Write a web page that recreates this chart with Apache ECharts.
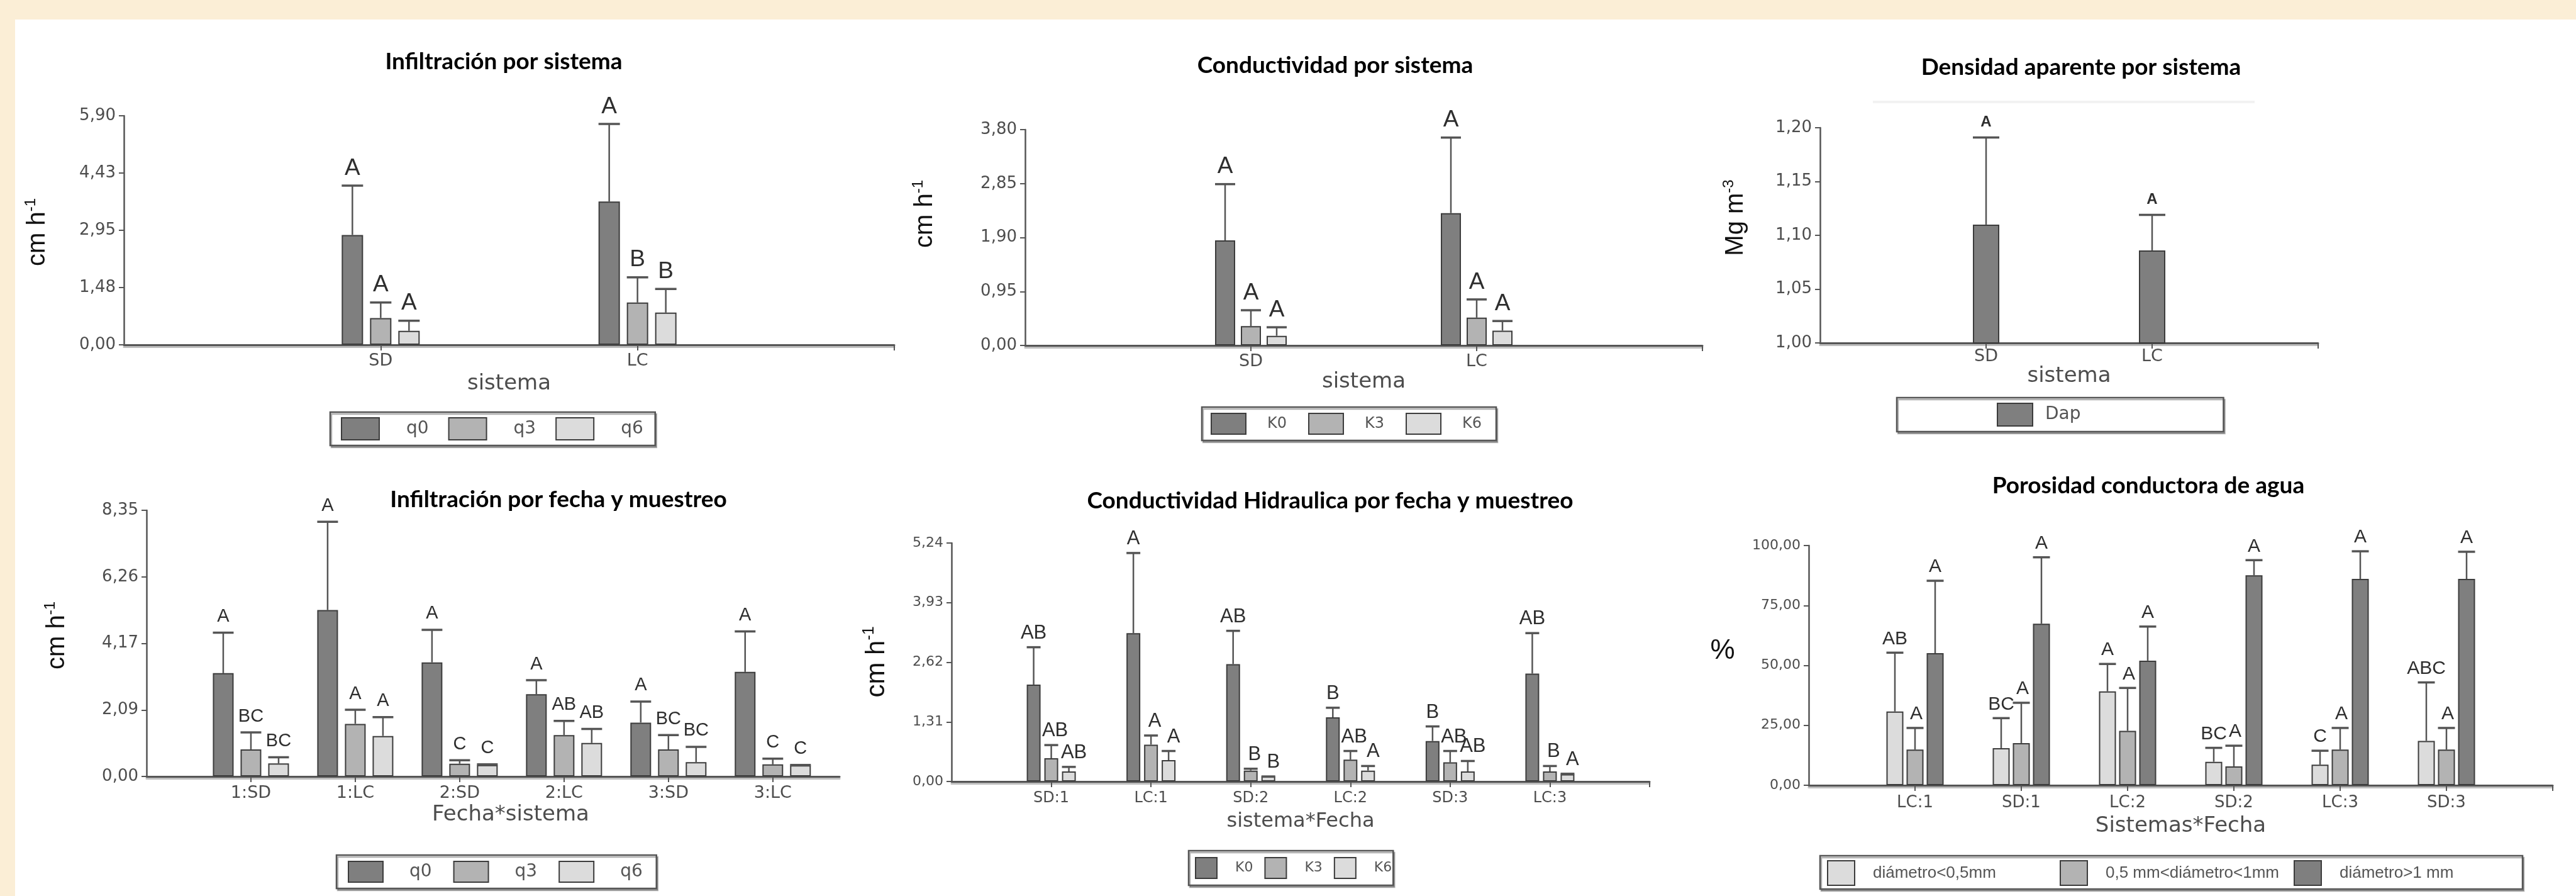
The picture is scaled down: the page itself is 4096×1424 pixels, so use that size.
<!DOCTYPE html>
<html><head><meta charset="utf-8">
<script src="https://cdn.jsdelivr.net/npm/echarts@6/dist/echarts.min.js"></script>
<style>html,body{margin:0;padding:0;background:#fbeed6;}#c{width:4096px;height:1424px;}</style>
</head><body><div id="c"></div>
<script>
// ---------------- DATA ----------------
// Panel 1: Infiltración por sistema
const p1Categories = ['SD', 'LC'];
const p1SeriesNames = ['q0', 'q3', 'q6'];
const p1Means = [[2.83, 3.69], [0.69, 1.09], [0.36, 0.83]];
const p1Errors = [[1.27, 2.00], [0.40, 0.65], [0.26, 0.61]];
const p1Letters = [['A', 'A'], ['A', 'B'], ['A', 'B']];
const p1YTicks = ['0,00', '1,48', '2,95', '4,43', '5,90'];

// Panel 2: Conductividad por sistema
const p2Categories = ['SD', 'LC'];
const p2SeriesNames = ['K0', 'K3', 'K6'];
const p2Means = [[1.85, 2.33], [0.34, 0.49], [0.17, 0.26]];
const p2Errors = [[0.99, 1.33], [0.28, 0.32], [0.15, 0.17]];
const p2Letters = [['A', 'A'], ['A', 'A'], ['A', 'A']];
const p2YTicks = ['0,00', '0,95', '1,90', '2,85', '3,80'];

// Panel 3: Densidad aparente por sistema
const p3Categories = ['SD', 'LC'];
const p3SeriesNames = ['Dap'];
const p3Means = [[1.110, 1.086]];
const p3Errors = [[0.081, 0.033]];
const p3Letters = [['A', 'A']];
const p3YTicks = ['1,00', '1,05', '1,10', '1,15', '1,20'];

// Panel 4: Infiltración por fecha y muestreo
const p4Categories = ['1:SD', '1:LC', '2:SD', '2:LC', '3:SD', '3:LC'];
const p4SeriesNames = ['q0', 'q3', 'q6'];
const p4Means = [
  [3.24, 5.22, 3.58, 2.58, 1.69, 3.28],
  [0.85, 1.65, 0.40, 1.30, 0.85, 0.38],
  [0.41, 1.27, 0.36, 1.05, 0.45, 0.35]
];
const p4Errors = [
  [1.27, 2.77, 1.02, 0.44, 0.66, 1.27],
  [0.53, 0.44, 0.11, 0.44, 0.45, 0.18],
  [0.19, 0.59, 0.02, 0.44, 0.48, 0.01]
];
const p4Letters = [
  ['A', 'A', 'A', 'A', 'A', 'A'],
  ['BC', 'A', 'C', 'AB', 'BC', 'C'],
  ['BC', 'A', 'C', 'AB', 'BC', 'C']
];
const p4YTicks = ['0,00', '2,09', '4,17', '6,26', '8,35'];

// Panel 5: Conductividad Hidraulica por fecha y muestreo
const p5Categories = ['SD:1', 'LC:1', 'SD:2', 'LC:2', 'SD:3', 'LC:3'];
const p5SeriesNames = ['K0', 'K3', 'K6'];
const p5Means = [
  [2.13, 3.26, 2.58, 1.41, 0.89, 2.37],
  [0.51, 0.81, 0.24, 0.48, 0.42, 0.22],
  [0.22, 0.47, 0.11, 0.24, 0.22, 0.16]
];
const p5Errors = [
  [0.82, 1.76, 0.73, 0.21, 0.32, 0.89],
  [0.29, 0.20, 0.04, 0.19, 0.25, 0.12],
  [0.10, 0.20, 0.00, 0.10, 0.23, 0.01]
];
const p5Letters = [
  ['AB', 'A', 'AB', 'B', 'B', 'AB'],
  ['AB', 'A', 'B', 'AB', 'AB', 'B'],
  ['AB', 'A', 'B', 'A', 'AB', 'A']
];
const p5YTicks = ['0,00', '1,31', '2,62', '3,93', '5,24'];

// Panel 6: Porosidad conductora de agua
const p6Categories = ['LC:1', 'SD:1', 'LC:2', 'SD:2', 'LC:3', 'SD:3'];
const p6SeriesNames = ['diámetro<0,5mm', '0,5 mm<diámetro<1mm', 'diámetro>1 mm'];
const p6Means = [
  [30.8, 15.5, 39.2, 9.8, 8.6, 18.5],
  [14.9, 17.6, 22.7, 7.9, 14.9, 14.9],
  [55.1, 67.4, 52.0, 87.6, 86.1, 86.1]
];
const p6Errors = [
  [24.5, 12.5, 11.4, 5.8, 5.8, 24.4],
  [9.0, 16.8, 17.9, 8.6, 9.0, 9.0],
  [30.2, 27.7, 14.2, 6.3, 11.5, 11.3]
];
const p6Letters = [
  ['AB', 'BC', 'A', 'BC', 'C', 'ABC'],
  ['A', 'A', 'A', 'A', 'A', 'A'],
  ['A', 'A', 'A', 'A', 'A', 'A']
];
const p6YTicks = ['0,00', '25,00', '50,00', '75,00', '100,00'];

// ---------------- STYLE / LAYOUT ----------------
const DARK = '#7f7f7f', MID = '#b3b3b3', LIGHT = '#dcdcdc', EDGE = '#3c3c3c', AX = '#555555';
const TICKFONT = 'DejaVu Sans', LETFONT = 'Liberation Sans', TITLEFONT = 'Lato';

const panels = [
  { cats: p1Categories, names: p1SeriesNames, means: p1Means, errs: p1Errors, letters: p1Letters, yTicks: p1YTicks,
    yMin: 0, yMax: 5.90, xMax: 3, xTicks: [1, 2, 3],
    grid: { left: 197, top: 184, width: 1225, height: 364 },
    colors: [DARK, MID, LIGHT], bw: 34, gap: 11, letterSize: 37, letterGap: 9, letterWeight: 'normal', letterShift: [0, 0, 0],
    yLabelSize: 26, xLabelSize: 27, xLabelMargin: 12,
    xName: 'sistema', xNameGap: 45, xNameShift: 0, xNameSize: 34,
    title: { text: 'Infiltración por sistema', x: 801, y: 98 },
    yName: { main: 'cm h', sup: '-1', x: 60, y: 369, rot: true, size: 40 },
    legend: { left: 525, top: 655, itemW: 60, itemH: 35, pl: 38, gap: 31, padding: [8, 19, 8, 17], fontSize: 28, font: TICKFONT } },
  { cats: p2Categories, names: p2SeriesNames, means: p2Means, errs: p2Errors, letters: p2Letters, yTicks: p2YTicks,
    yMin: 0, yMax: 3.80, xMax: 3, xTicks: [1, 2, 3],
    grid: { left: 1630, top: 206, width: 1077, height: 343 },
    colors: [DARK, MID, LIGHT], bw: 32, gap: 9, letterSize: 37, letterGap: 9, letterWeight: 'normal', letterShift: [0, 0, 0],
    yLabelSize: 26, xLabelSize: 27, xLabelMargin: 12,
    xName: 'sistema', xNameGap: 41, xNameShift: 0, xNameSize: 34,
    title: { text: 'Conductividad por sistema', x: 2123, y: 104 },
    yName: { main: 'cm h', sup: '-1', x: 1471, y: 340, rot: true, size: 40 },
    legend: { left: 1911, top: 647, itemW: 55, itemH: 33, pl: 29, gap: 34, padding: [9, 23, 9, 14], fontSize: 24, font: TICKFONT } },
  { cats: p3Categories, names: p3SeriesNames, means: p3Means, errs: p3Errors, letters: p3Letters, yTicks: p3YTicks,
    yMin: 1.0, yMax: 1.2, xMax: 3, xTicks: [1, 2, 3],
    grid: { left: 2894, top: 203, width: 792, height: 342 },
    colors: [DARK], bw: 42, gap: 0, letterSize: 24, letterGap: 12, letterWeight: 'bold', letterShift: [0],
    yLabelSize: 26, xLabelSize: 27, xLabelMargin: 8,
    xName: 'sistema', xNameGap: 32, xNameShift: 0, xNameSize: 34,
    title: { text: 'Densidad aparente por sistema', x: 3309, y: 107 },
    yName: { main: 'Mg m', sup: '-3', x: 2760, y: 346, rot: true, size: 40 },
    legend: { left: 3016, top: 632, itemW: 56, itemH: 36, pl: 15, gap: 0, padding: [8, 227, 8, 159], fontSize: 28, font: TICKFONT } },
  { cats: p4Categories, names: p4SeriesNames, means: p4Means, errs: p4Errors, letters: p4Letters, yTicks: p4YTicks,
    yMin: 0, yMax: 8.35, xMax: 6.64, xTicks: [1, 2, 3, 4, 5, 6],
    grid: { left: 233, top: 811, width: 1102, height: 423 },
    colors: [DARK, MID, LIGHT], bw: 33, gap: 11, letterSize: 29, letterGap: 11, letterWeight: 'normal', letterShift: [0, 0, 0],
    yLabelSize: 26, xLabelSize: 27, xLabelMargin: 13,
    xName: 'Fecha*sistema', xNameGap: 44, xNameShift: 56, xNameSize: 34,
    title: { text: 'Infiltración por fecha y muestreo', x: 888, y: 794 },
    yName: { main: 'cm h', sup: '-1', x: 91, y: 1010, rot: true, size: 40 },
    legend: { left: 535, top: 1359, itemW: 55, itemH: 33, pl: 37, gap: 34, padding: [9, 22, 9, 18], fontSize: 28, font: TICKFONT } },
  { cats: p5Categories, names: p5SeriesNames, means: p5Means, errs: p5Errors, letters: p5Letters, yTicks: p5YTicks,
    yMin: 0, yMax: 5.24, xMax: 7, xTicks: [1, 2, 3, 4, 5, 6, 7],
    grid: { left: 1513, top: 863, width: 1110, height: 379 },
    colors: [DARK, MID, LIGHT], bw: 22, gap: 6, letterSize: 31, letterGap: 7, letterWeight: 'normal', letterShift: [0, 6, 8],
    yLabelSize: 22, xLabelSize: 24, xLabelMargin: 15,
    xName: 'sistema*Fecha', xNameGap: 48, xNameShift: 0, xNameSize: 32,
    title: { text: 'Conductividad Hidraulica por fecha y muestreo', x: 2115, y: 796 },
    yName: { main: 'cm h', sup: '-1', x: 1394, y: 1052, rot: true, size: 42 },
    legend: { left: 1890, top: 1352, itemW: 34, itemH: 33, pl: 24, gap: 18, padding: [10, 2, 10, 10], fontSize: 22, font: TICKFONT } },
  { cats: p6Categories, names: p6SeriesNames, means: p6Means, errs: p6Errors, letters: p6Letters, yTicks: p6YTicks,
    yMin: 0, yMax: 100, xMax: 7, xTicks: [1, 2, 3, 4, 5, 6, 7],
    grid: { left: 2876, top: 867, width: 1183, height: 381 },
    colors: [LIGHT, MID, DARK], bw: 27, gap: 5, letterSize: 30, letterGap: 7, letterWeight: 'normal', letterShift: [0, 2, 0],
    yLabelSize: 22, xLabelSize: 26, xLabelMargin: 15,
    xName: 'Sistemas*Fecha', xNameGap: 48, xNameShift: 0, xNameSize: 34,
    title: { text: 'Porosidad conductora de agua', x: 3416, y: 772 },
    yName: { main: '%', sup: '', x: 2739, y: 1035, rot: false, size: 44 },
    // split legend: one item per legend component inside a drawn frame
    legend: { split: true, frame: { x: 2894, y: 1360, width: 1117, height: 53 }, itemLefts: [2905, 3275, 3647], top: 1367,
      itemW: 43, itemH: 39, pl: 24, fontSize: 26, font: LETFONT } }
];

// ---------------- BUILD ----------------
const option = {
  backgroundColor: '#fbeed6',
  animation: false,
  textStyle: { fontFamily: LETFONT },
  grid: [], xAxis: [], yAxis: [], series: [], legend: [],
  graphic: { elements: [
    { type: 'rect', z: -10, shape: { x: 24, y: 31, width: 4072, height: 1393 }, style: { fill: '#ffffff' } },
    { type: 'line', z: 1, shape: { x1: 2978, y1: 162, x2: 3585, y2: 162 }, style: { stroke: '#f2f2f2', lineWidth: 4 } }
  ] }
};

const legendBox = { backgroundColor: '#ffffff', borderColor: '#555', borderWidth: 2.5, borderRadius: 0,
  shadowColor: 'rgba(0,0,0,0.3)', shadowOffsetX: 2, shadowOffsetY: 3, shadowBlur: 0 };

panels.forEach((P, p) => {
  const n = P.names.length;
  const yInt = (P.yMax - P.yMin) / 4;
  option.grid.push(Object.assign({ containLabel: false, outerBoundsMode: 'none' }, P.grid));
  option.xAxis.push({
    type: 'value', gridIndex: p, min: 0, max: P.xMax, interval: 1,
    axisLine: { show: true, onZero: false, lineStyle: { color: AX, width: 3, shadowColor: '#bdbdbd', shadowOffsetY: 3, shadowBlur: 0 } },
    axisTick: { show: true, customValues: P.xTicks, length: 9, lineStyle: { color: AX, width: 2 } },
    axisLabel: {
      customValues: P.cats.map((c, i) => i + 1),
      formatter: v => P.cats[Math.round(v) - 1] || '',
      fontSize: P.xLabelSize, fontFamily: TICKFONT, color: '#4d4d4d', margin: P.xLabelMargin
    },
    splitLine: { show: false },
    name: P.xName, nameLocation: 'middle', nameGap: P.xNameGap,
    nameTextStyle: { fontSize: P.xNameSize, fontFamily: TICKFONT, color: '#4d4d4d', padding: [0, 0, 0, P.xNameShift] }
  });
  option.yAxis.push({
    type: 'value', gridIndex: p, min: P.yMin, max: P.yMax, interval: yInt,
    axisLine: { show: true, lineStyle: { color: AX, width: 2.5 } },
    axisTick: { show: true, length: 8, lineStyle: { color: AX, width: 2 } },
    axisLabel: {
      formatter: v => P.yTicks[Math.round((v - P.yMin) / yInt)] || '',
      fontSize: P.yLabelSize, fontFamily: TICKFONT, color: '#4d4d4d', margin: 13
    },
    splitLine: { show: false }
  });
  // bars
  P.names.forEach((name, k) => {
    option.series.push({
      type: 'bar', name: name, xAxisIndex: p, yAxisIndex: p,
      data: P.cats.map((c, i) => [i + 1, P.means[k][i]]),
      barWidth: P.bw, barGap: (P.gap / P.bw * 100) + '%',
      itemStyle: { color: P.colors[k], borderColor: EDGE, borderWidth: 2 },
      emphasis: { disabled: true }
    });
  });
  // error bars + letters
  P.names.forEach((name, k) => {
    const off = (k - (n - 1) / 2) * (P.bw + P.gap);
    const shift = P.letterShift[k];
    option.series.push({
      type: 'custom', name: 'err_' + p + '_' + k, xAxisIndex: p, yAxisIndex: p, z: 5,
      data: P.cats.map((c, i) => [i + 1, P.means[k][i], P.means[k][i] + P.errs[k][i]]),
      renderItem: (params, api) => {
        const b = api.coord([api.value(0), api.value(1)]);
        const t = api.coord([api.value(0), api.value(2)]);
        const x = b[0] + off;
        const half = P.bw / 2;
        return { type: 'group', children: [
          { type: 'line', shape: { x1: x, y1: b[1], x2: x, y2: t[1] }, style: { stroke: '#555', lineWidth: 2.5 } },
          { type: 'line', shape: { x1: x - half, y1: t[1], x2: x + half, y2: t[1] }, style: { stroke: '#555', lineWidth: 3.5 } },
          { type: 'text', x: x + shift, y: t[1] - P.letterGap, style: {
              text: P.letters[k][params.dataIndex], fill: '#2e2e2e',
              fontSize: P.letterSize, fontFamily: LETFONT, fontWeight: P.letterWeight,
              align: 'center', verticalAlign: 'bottom', textAlign: 'center', textVerticalAlign: 'bottom' } }
        ] };
      }
    });
  });
  // legend
  const L = P.legend;
  const txt = { fontSize: L.fontSize, fontFamily: L.font, color: '#555', padding: [0, 0, 0, L.pl] };
  if (L.split) {
    option.graphic.elements.push({ type: 'rect', z: 50,
      shape: { x: L.frame.x, y: L.frame.y, width: L.frame.width, height: L.frame.height },
      style: { fill: '#fff', stroke: '#555', lineWidth: 2.5, shadowColor: 'rgba(0,0,0,0.3)', shadowOffsetX: 2, shadowOffsetY: 3 } });
    P.names.forEach((name, k) => {
      option.legend.push({
        data: [name], left: L.itemLefts[k], top: L.top, padding: 0, z: 60,
        itemWidth: L.itemW, itemHeight: L.itemH, icon: 'rect', selectedMode: false, textStyle: txt
      });
    });
  } else {
    option.legend.push(Object.assign({
      data: P.names, left: L.left, top: L.top, orient: 'horizontal',
      itemWidth: L.itemW, itemHeight: L.itemH, itemGap: L.gap, icon: 'rect', selectedMode: false,
      padding: L.padding, textStyle: txt
    }, legendBox));
  }
  // title
  option.graphic.elements.push({
    type: 'text', z: 100, x: P.title.x, y: P.title.y,
    style: { text: P.title.text, fontSize: 37, fontWeight: 'bold', fontFamily: TITLEFONT, fill: '#000',
      align: 'center', verticalAlign: 'middle', textAlign: 'center', textVerticalAlign: 'middle' }
  });
  // y axis name
  const Y = P.yName;
  option.graphic.elements.push({
    type: 'text', z: 100, x: Y.x, y: Y.y, rotation: Y.rot ? Math.PI / 2 : 0,
    style: {
      text: Y.sup ? '{m|' + Y.main + '}{s|' + Y.sup + '}' : '{m|' + Y.main + '}',
      align: 'center', verticalAlign: 'middle', textAlign: 'center', textVerticalAlign: 'middle',
      rich: {
        m: { fontSize: Y.size, fontFamily: LETFONT, fill: '#111', color: '#111', lineHeight: Y.size + 6 },
        s: { fontSize: Math.round(Y.size * 0.6), fontFamily: LETFONT, fill: '#111', color: '#111', verticalAlign: 'top' }
      }
    }
  });
});

const chart = echarts.init(document.getElementById('c'), null, { renderer: 'canvas', width: 4096, height: 1424 });
chart.setOption(option);
</script></body></html>
